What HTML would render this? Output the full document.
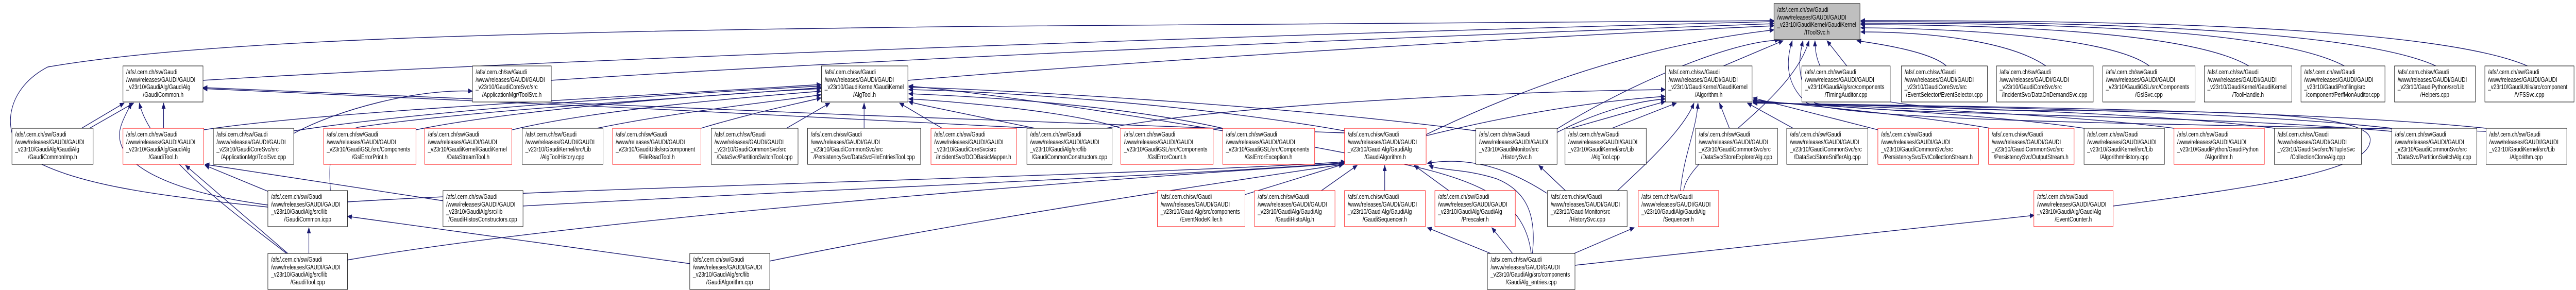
<!DOCTYPE html>
<html><head><meta charset="utf-8">
<style>
html,body{margin:0;padding:0;background:#fff;width:100%;height:100%;overflow:hidden;}
svg{display:block;width:100vw;height:100vh;}
text{font-family:"Liberation Sans",Arial,sans-serif;font-size:13px;fill:#000;}
.b{fill:#fff;stroke:#000;stroke-width:1;}
.r{fill:#fff;stroke:#ff0000;stroke-width:1;}
.g{fill:#bfbfbf;stroke:#000;stroke-width:1;}
.e{fill:none;stroke:#191970;stroke-width:1.4;marker-end:url(#a);}
</style></head><body>
<svg viewBox="0 0 6472 563" preserveAspectRatio="none" xmlns="http://www.w3.org/2000/svg">
<defs><marker id="a" markerWidth="12" markerHeight="10" refX="11" refY="5" orient="auto" markerUnits="userSpaceOnUse"><path d="M0,0 L12,5 L0,10 z" fill="#191970"/></marker></defs>

<g>
<!-- into IToolSvc -->
<path class="e" d="M508,156 C1500,110 3500,60 4457,42"/>
<path class="e" d="M1383,156 C2300,110 3600,70 4457,46"/>
<path class="e" d="M2280,156 C3000,110 3900,70 4457,50"/>
<path class="e" d="M673,402 C400,380 180,360 60,300 C0,250 20,170 120,130 C500,80 1200,62 2477,51 C3300,46 4000,42 4457,40"/>
<path class="e" d="M3581,262 C3800,180 4100,90 4457,58"/>
<path class="e" d="M3908,252 C4100,160 4350,80 4470,78"/>
<path class="e" d="M4330,128 L4480,79"/>
<path class="e" d="M4640,128 L4590,79"/>
<path class="e" d="M4890,128 C4850,100 4720,85 4665,79"/>
<path class="e" d="M5140,128 C5050,80 4850,62 4675,62"/>
<path class="e" d="M5400,128 C5300,70 4900,55 4675,54"/>
<path class="e" d="M5650,128 C5500,60 5000,48 4675,48"/>
<path class="e" d="M5890,128 C5700,50 5050,45 4675,45"/>
<path class="e" d="M6120,128 C5900,50 5100,42 4675,42"/>
<path class="e" d="M6350,128 C6100,45 5200,40 4675,40"/>
<path class="e" d="M6246,255 C5600,240 4700,240 4540,200 C4480,160 4490,110 4503,79"/>
<path class="e" d="M6009,255 C5500,220 4700,225 4560,200 C4510,160 4520,110 4530,79"/>
<path class="e" d="M5309,400 C5700,360 5960,330 5955,270 C5950,220 5600,215 5200,215 C4700,215 4560,190 4560,79"/>
<path class="e" d="M4230,370 C4240,300 4500,200 4545,79"/>
<!-- into GaudiCommon.h -->
<path class="e" d="M205,249 L312,200"/>
<path class="e" d="M225,249 L336,200"/>
<path class="e" d="M411,249 L411,200"/>
<path class="e" d="M673,398 C420,372 300,320 300,262 C300,242 320,217 330,200"/>
<path class="e" d="M720,492 C600,420 380,300 350,200"/>
<path class="e" d="M3378,258 C2500,232 1200,200 510,170"/>
<path class="e" d="M2600,249 C2000,222 1000,190 510,172"/>
<!-- into GaudiTool.h -->
<path class="e" d="M723,492 L466,321"/>
<path class="e" d="M675,372 L515,321"/>
<path class="e" d="M1115,390 L515,319"/>
<!-- into GaudiCommon.icpp -->
<path class="e" d="M776,492 L776,442"/>
<path class="e" d="M1735,512 L873,420"/>
<path class="e" d="M871,505 C1500,420 2900,340 3376,318"/>
<path class="e" d="M871,392 C1500,362 2900,340 3380,314"/>
<path class="e" d="M830,370 C825,300 830,262 900,247 C1200,212 1800,187 2063,170"/>
<path class="e" d="M1313,400 C2000,370 3000,340 3380,316"/>
<!-- into ToolSvc.h -->
<path class="e" d="M738,259 C850,212 1050,172 1187,177"/>
<!-- into AlgTool.h -->
<path class="e" d="M738,254 C1100,212 1700,182 2063,167"/>
<path class="e" d="M512,252 C800,217 1600,187 2063,164"/>
<path class="e" d="M1045,252 C1300,212 1800,182 2063,172"/>
<path class="e" d="M1287,252 C1500,212 1900,187 2063,177"/>
<path class="e" d="M1500,249 C1700,217 1950,197 2063,184"/>
<path class="e" d="M1761,249 C1900,217 2000,202 2063,190"/>
<path class="e" d="M1976,249 L2085,200"/>
<path class="e" d="M2171,249 L2171,200"/>
<path class="e" d="M2367,249 L2260,200"/>
<path class="e" d="M2816,249 C2700,217 2400,197 2283,192"/>
<path class="e" d="M3072,249 C2800,202 2450,187 2283,182"/>
<path class="e" d="M3378,254 C3000,202 2500,177 2283,174"/>
<path class="e" d="M3709,254 C3200,202 2500,174 2283,169"/>
<path class="e" d="M3847,492 C3830,380 3700,340 3400,300 C3000,240 2500,182 2283,167"/>
<path class="e" d="M2600,249 C2400,217 2300,202 2283,197"/>
<!-- into Algorithm.h -->
<path class="e" d="M2779,249 C3100,202 3800,177 4184,174"/>
<path class="e" d="M3581,264 C3800,222 4000,197 4184,187"/>
<path class="e" d="M3912,257 C4000,222 4100,197 4184,192"/>
<path class="e" d="M3933,252 L4184,197"/>
<path class="e" d="M4050,249 L4212,200"/>
<path class="e" d="M4064,370 C4130,322 4230,252 4256,200"/>
<path class="e" d="M4222,370 C4230,302 4262,252 4266,200"/>
<path class="e" d="M4345,249 L4320,200"/>
<path class="e" d="M4505,249 L4390,200"/>
<path class="e" d="M4718,252 L4404,190"/>
<path class="e" d="M5000,249 C4800,222 4500,202 4404,194"/>
<path class="e" d="M5236,249 C5000,222 4600,207 4404,196"/>
<path class="e" d="M5462,249 C5200,222 4700,207 4404,198"/>
<path class="e" d="M5714,249 C5400,217 4800,207 4404,199"/>
<path class="e" d="M6009,249 C5600,214 4900,207 4404,200"/>
<path class="e" d="M6246,249 C5800,214 5000,207 4404,200"/>
<!-- into GaudiAlgorithm.h -->
<path class="e" d="M3127,378 L3375,319"/>
<path class="e" d="M3320,370 L3410,321"/>
<path class="e" d="M3479,370 L3479,321"/>
<path class="e" d="M3640,370 L3553,321"/>
<path class="e" d="M1933,507 C2400,432 3000,362 3376,319"/>
<path class="e" d="M3886,375 C3800,332 3700,302 3586,317"/>
<!-- into HistorySvc.h -->
<path class="e" d="M3933,370 L3866,321"/>
<!-- GaudiAlg_entries -->
<path class="e" d="M3745,492 L3586,442"/>
<path class="e" d="M3800,492 L3748,442"/>
<path class="e" d="M3955,492 L4106,442"/>
<path class="e" d="M3957,515 L5111,418"/>
<path class="e" d="M3850,492 C3860,422 3840,372 3760,347 C3680,327 3620,332 3590,321"/>
</g>

<!-- nodes -->
<g transform="translate(4457,7)"><rect class="g" width="216" height="70"/><text x="8" y="16">/afs/.cern.ch/sw/Gaudi</text><text x="8" y="31">/www/releases/GAUDI/GAUDI</text><text x="8" y="45">_v23r10/GaudiKernel/GaudiKernel</text><text x="108" y="60" text-anchor="middle">/IToolSvc.h</text></g>

<g transform="translate(309,128)"><rect class="b" width="201" height="70"/><text x="8" y="16">/afs/.cern.ch/sw/Gaudi</text><text x="8" y="31">/www/releases/GAUDI/GAUDI</text><text x="8" y="45">_v23r10/GaudiAlg/GaudiAlg</text><text x="101" y="60" text-anchor="middle">/GaudiCommon.h</text></g>
<g transform="translate(1187,128)"><rect class="b" width="198" height="70"/><text x="8" y="16">/afs/.cern.ch/sw/Gaudi</text><text x="8" y="31">/www/releases/GAUDI/GAUDI</text><text x="8" y="45">_v23r10/GaudiCoreSvc/src</text><text x="99" y="60" text-anchor="middle">/ApplicationMgr/ToolSvc.h</text></g>
<g transform="translate(2064,128)"><rect class="b" width="217" height="70"/><text x="8" y="16">/afs/.cern.ch/sw/Gaudi</text><text x="8" y="31">/www/releases/GAUDI/GAUDI</text><text x="8" y="45">_v23r10/GaudiKernel/GaudiKernel</text><text x="108" y="60" text-anchor="middle">/AlgTool.h</text></g>
<g transform="translate(4184,128)"><rect class="b" width="218" height="70"/><text x="8" y="16">/afs/.cern.ch/sw/Gaudi</text><text x="8" y="31">/www/releases/GAUDI/GAUDI</text><text x="8" y="45">_v23r10/GaudiKernel/GaudiKernel</text><text x="109" y="60" text-anchor="middle">/Algorithm.h</text></g>
<g transform="translate(4527,128)"><rect class="b" width="222" height="70"/><text x="8" y="16">/afs/.cern.ch/sw/Gaudi</text><text x="8" y="31">/www/releases/GAUDI/GAUDI</text><text x="8" y="45">_v23r10/GaudiAlg/src/components</text><text x="111" y="60" text-anchor="middle">/TimingAuditor.cpp</text></g>
<g transform="translate(4777,128)"><rect class="b" width="216" height="70"/><text x="8" y="16">/afs/.cern.ch/sw/Gaudi</text><text x="8" y="31">/www/releases/GAUDI/GAUDI</text><text x="8" y="45">_v23r10/GaudiCoreSvc/src</text><text x="108" y="60" text-anchor="middle">/EventSelector/EventSelector.cpp</text></g>
<g transform="translate(5016,128)"><rect class="b" width="243" height="70"/><text x="8" y="16">/afs/.cern.ch/sw/Gaudi</text><text x="8" y="31">/www/releases/GAUDI/GAUDI</text><text x="8" y="45">_v23r10/GaudiCoreSvc/src</text><text x="121" y="60" text-anchor="middle">/IncidentSvc/DataOnDemandSvc.cpp</text></g>
<g transform="translate(5283,128)"><rect class="b" width="232" height="70"/><text x="8" y="16">/afs/.cern.ch/sw/Gaudi</text><text x="8" y="31">/www/releases/GAUDI/GAUDI</text><text x="8" y="45">_v23r10/GaudiGSL/src/Components</text><text x="116" y="60" text-anchor="middle">/GslSvc.cpp</text></g>
<g transform="translate(5538,128)"><rect class="b" width="220" height="70"/><text x="8" y="16">/afs/.cern.ch/sw/Gaudi</text><text x="8" y="31">/www/releases/GAUDI/GAUDI</text><text x="8" y="45">_v23r10/GaudiKernel/GaudiKernel</text><text x="110" y="60" text-anchor="middle">/ToolHandle.h</text></g>
<g transform="translate(5781,128)"><rect class="b" width="211" height="70"/><text x="8" y="16">/afs/.cern.ch/sw/Gaudi</text><text x="8" y="31">/www/releases/GAUDI/GAUDI</text><text x="8" y="45">_v23r10/GaudiProfiling/src</text><text x="105" y="60" text-anchor="middle">/component/PerfMonAuditor.cpp</text></g>
<g transform="translate(6016,128)"><rect class="b" width="203" height="70"/><text x="8" y="16">/afs/.cern.ch/sw/Gaudi</text><text x="8" y="31">/www/releases/GAUDI/GAUDI</text><text x="8" y="45">_v23r10/GaudiPython/src/Lib</text><text x="101" y="60" text-anchor="middle">/Helpers.cpp</text></g>
<g transform="translate(6243,128)"><rect class="b" width="224" height="70"/><text x="8" y="16">/afs/.cern.ch/sw/Gaudi</text><text x="8" y="31">/www/releases/GAUDI/GAUDI</text><text x="8" y="45">_v23r10/GaudiUtils/src/component</text><text x="112" y="60" text-anchor="middle">/VFSSvc.cpp</text></g>

<g transform="translate(30,249)"><rect class="b" width="204" height="70"/><text x="8" y="16">/afs/.cern.ch/sw/Gaudi</text><text x="8" y="31">/www/releases/GAUDI/GAUDI</text><text x="8" y="45">_v23r10/GaudiAlg/GaudiAlg</text><text x="102" y="60" text-anchor="middle">/GaudiCommonImp.h</text></g>
<g transform="translate(309,249)"><rect class="r" width="203" height="70"/><text x="8" y="16">/afs/.cern.ch/sw/Gaudi</text><text x="8" y="31">/www/releases/GAUDI/GAUDI</text><text x="8" y="45">_v23r10/GaudiAlg/GaudiAlg</text><text x="101" y="60" text-anchor="middle">/GaudiTool.h</text></g>
<g transform="translate(536,249)"><rect class="b" width="202" height="70"/><text x="8" y="16">/afs/.cern.ch/sw/Gaudi</text><text x="8" y="31">/www/releases/GAUDI/GAUDI</text><text x="8" y="45">_v23r10/GaudiCoreSvc/src</text><text x="101" y="60" text-anchor="middle">/ApplicationMgr/ToolSvc.cpp</text></g>
<g transform="translate(813,249)"><rect class="r" width="232" height="70"/><text x="8" y="16">/afs/.cern.ch/sw/Gaudi</text><text x="8" y="31">/www/releases/GAUDI/GAUDI</text><text x="8" y="45">_v23r10/GaudiGSL/src/Components</text><text x="116" y="60" text-anchor="middle">/GslErrorPrint.h</text></g>
<g transform="translate(1067,249)"><rect class="r" width="219" height="70"/><text x="8" y="16">/afs/.cern.ch/sw/Gaudi</text><text x="8" y="31">/www/releases/GAUDI/GAUDI</text><text x="8" y="45">_v23r10/GaudiKernel/GaudiKernel</text><text x="109" y="60" text-anchor="middle">/DataStreamTool.h</text></g>
<g transform="translate(1312,249)"><rect class="b" width="203" height="70"/><text x="8" y="16">/afs/.cern.ch/sw/Gaudi</text><text x="8" y="31">/www/releases/GAUDI/GAUDI</text><text x="8" y="45">_v23r10/GaudiKernel/src/Lib</text><text x="101" y="60" text-anchor="middle">/AlgToolHistory.cpp</text></g>
<g transform="translate(1539,249)"><rect class="r" width="222" height="70"/><text x="8" y="16">/afs/.cern.ch/sw/Gaudi</text><text x="8" y="31">/www/releases/GAUDI/GAUDI</text><text x="8" y="45">_v23r10/GaudiUtils/src/component</text><text x="111" y="60" text-anchor="middle">/FileReadTool.h</text></g>
<g transform="translate(1787,249)"><rect class="b" width="218" height="70"/><text x="8" y="16">/afs/.cern.ch/sw/Gaudi</text><text x="8" y="31">/www/releases/GAUDI/GAUDI</text><text x="8" y="45">_v23r10/GaudiCommonSvc/src</text><text x="109" y="60" text-anchor="middle">/DataSvc/PartitionSwitchTool.cpp</text></g>
<g transform="translate(2029,249)"><rect class="b" width="284" height="70"/><text x="8" y="16">/afs/.cern.ch/sw/Gaudi</text><text x="8" y="31">/www/releases/GAUDI/GAUDI</text><text x="8" y="45">_v23r10/GaudiCommonSvc/src</text><text x="142" y="60" text-anchor="middle">/PersistencySvc/DataSvcFileEntriesTool.cpp</text></g>
<g transform="translate(2339,249)"><rect class="r" width="215" height="70"/><text x="8" y="16">/afs/.cern.ch/sw/Gaudi</text><text x="8" y="31">/www/releases/GAUDI/GAUDI</text><text x="8" y="45">_v23r10/GaudiCoreSvc/src</text><text x="107" y="60" text-anchor="middle">/IncidentSvc/DODBasicMapper.h</text></g>
<g transform="translate(2580,249)"><rect class="b" width="214" height="70"/><text x="8" y="16">/afs/.cern.ch/sw/Gaudi</text><text x="8" y="31">/www/releases/GAUDI/GAUDI</text><text x="8" y="45">_v23r10/GaudiAlg/src/lib</text><text x="107" y="60" text-anchor="middle">/GaudiCommonConstructors.cpp</text></g>
<g transform="translate(2816,249)"><rect class="r" width="232" height="70"/><text x="8" y="16">/afs/.cern.ch/sw/Gaudi</text><text x="8" y="31">/www/releases/GAUDI/GAUDI</text><text x="8" y="45">_v23r10/GaudiGSL/src/Components</text><text x="116" y="60" text-anchor="middle">/GslErrorCount.h</text></g>
<g transform="translate(3072,249)"><rect class="r" width="231" height="70"/><text x="8" y="16">/afs/.cern.ch/sw/Gaudi</text><text x="8" y="31">/www/releases/GAUDI/GAUDI</text><text x="8" y="45">_v23r10/GaudiGSL/src/Components</text><text x="115" y="60" text-anchor="middle">/GslErrorException.h</text></g>
<g transform="translate(3378,249)"><rect class="r" width="205" height="70"/><text x="8" y="16">/afs/.cern.ch/sw/Gaudi</text><text x="8" y="31">/www/releases/GAUDI/GAUDI</text><text x="8" y="45">_v23r10/GaudiAlg/GaudiAlg</text><text x="102" y="60" text-anchor="middle">/GaudiAlgorithm.h</text></g>
<g transform="translate(3708,249)"><rect class="b" width="204" height="70"/><text x="8" y="16">/afs/.cern.ch/sw/Gaudi</text><text x="8" y="31">/www/releases/GAUDI/GAUDI</text><text x="8" y="45">_v23r10/GaudiMonitor/src</text><text x="102" y="60" text-anchor="middle">/HistorySvc.h</text></g>
<g transform="translate(3932,249)"><rect class="b" width="204" height="70"/><text x="8" y="16">/afs/.cern.ch/sw/Gaudi</text><text x="8" y="31">/www/releases/GAUDI/GAUDI</text><text x="8" y="45">_v23r10/GaudiKernel/src/Lib</text><text x="102" y="60" text-anchor="middle">/AlgTool.cpp</text></g>
<g transform="translate(4260,249)"><rect class="b" width="206" height="70"/><text x="8" y="16">/afs/.cern.ch/sw/Gaudi</text><text x="8" y="31">/www/releases/GAUDI/GAUDI</text><text x="8" y="45">_v23r10/GaudiCommonSvc/src</text><text x="103" y="60" text-anchor="middle">/DataSvc/StoreExplorerAlg.cpp</text></g>
<g transform="translate(4489,249)"><rect class="b" width="204" height="70"/><text x="8" y="16">/afs/.cern.ch/sw/Gaudi</text><text x="8" y="31">/www/releases/GAUDI/GAUDI</text><text x="8" y="45">_v23r10/GaudiCommonSvc/src</text><text x="102" y="60" text-anchor="middle">/DataSvc/StoreSnifferAlg.cpp</text></g>
<g transform="translate(4718,249)"><rect class="r" width="253" height="70"/><text x="8" y="16">/afs/.cern.ch/sw/Gaudi</text><text x="8" y="31">/www/releases/GAUDI/GAUDI</text><text x="8" y="45">_v23r10/GaudiCommonSvc/src</text><text x="126" y="60" text-anchor="middle">/PersistencySvc/EvtCollectionStream.h</text></g>
<g transform="translate(4996,249)"><rect class="r" width="215" height="70"/><text x="8" y="16">/afs/.cern.ch/sw/Gaudi</text><text x="8" y="31">/www/releases/GAUDI/GAUDI</text><text x="8" y="45">_v23r10/GaudiCommonSvc/src</text><text x="107" y="60" text-anchor="middle">/PersistencySvc/OutputStream.h</text></g>
<g transform="translate(5236,249)"><rect class="b" width="202" height="70"/><text x="8" y="16">/afs/.cern.ch/sw/Gaudi</text><text x="8" y="31">/www/releases/GAUDI/GAUDI</text><text x="8" y="45">_v23r10/GaudiKernel/src/Lib</text><text x="101" y="60" text-anchor="middle">/AlgorithmHistory.cpp</text></g>
<g transform="translate(5462,249)"><rect class="r" width="227" height="70"/><text x="8" y="16">/afs/.cern.ch/sw/Gaudi</text><text x="8" y="31">/www/releases/GAUDI/GAUDI</text><text x="8" y="45">_v23r10/GaudiPython/GaudiPython</text><text x="113" y="60" text-anchor="middle">/Algorithm.h</text></g>
<g transform="translate(5714,249)"><rect class="b" width="219" height="70"/><text x="8" y="16">/afs/.cern.ch/sw/Gaudi</text><text x="8" y="31">/www/releases/GAUDI/GAUDI</text><text x="8" y="45">_v23r10/GaudiSvc/src/NTupleSvc</text><text x="109" y="60" text-anchor="middle">/CollectionCloneAlg.cpp</text></g>
<g transform="translate(6009,249)"><rect class="b" width="214" height="70"/><text x="8" y="16">/afs/.cern.ch/sw/Gaudi</text><text x="8" y="31">/www/releases/GAUDI/GAUDI</text><text x="8" y="45">_v23r10/GaudiCommonSvc/src</text><text x="107" y="60" text-anchor="middle">/DataSvc/PartitionSwitchAlg.cpp</text></g>
<g transform="translate(6246,249)"><rect class="b" width="203" height="70"/><text x="8" y="16">/afs/.cern.ch/sw/Gaudi</text><text x="8" y="31">/www/releases/GAUDI/GAUDI</text><text x="8" y="45">_v23r10/GaudiKernel/src/Lib</text><text x="101" y="60" text-anchor="middle">/Algorithm.cpp</text></g>

<g transform="translate(673,370)"><rect class="b" width="200" height="70"/><text x="8" y="16">/afs/.cern.ch/sw/Gaudi</text><text x="8" y="31">/www/releases/GAUDI/GAUDI</text><text x="8" y="45">_v23r10/GaudiAlg/src/lib</text><text x="100" y="60" text-anchor="middle">/GaudiCommon.icpp</text></g>
<g transform="translate(1113,370)"><rect class="b" width="201" height="70"/><text x="8" y="16">/afs/.cern.ch/sw/Gaudi</text><text x="8" y="31">/www/releases/GAUDI/GAUDI</text><text x="8" y="45">_v23r10/GaudiAlg/src/lib</text><text x="100" y="60" text-anchor="middle">/GaudiHistosConstructors.cpp</text></g>
<g transform="translate(2908,370)"><rect class="r" width="220" height="70"/><text x="8" y="16">/afs/.cern.ch/sw/Gaudi</text><text x="8" y="31">/www/releases/GAUDI/GAUDI</text><text x="8" y="45">_v23r10/GaudiAlg/src/components</text><text x="110" y="60" text-anchor="middle">/EventNodeKiller.h</text></g>
<g transform="translate(3152,370)"><rect class="r" width="202" height="70"/><text x="8" y="16">/afs/.cern.ch/sw/Gaudi</text><text x="8" y="31">/www/releases/GAUDI/GAUDI</text><text x="8" y="45">_v23r10/GaudiAlg/GaudiAlg</text><text x="101" y="60" text-anchor="middle">/GaudiHistoAlg.h</text></g>
<g transform="translate(3378,370)"><rect class="r" width="203" height="70"/><text x="8" y="16">/afs/.cern.ch/sw/Gaudi</text><text x="8" y="31">/www/releases/GAUDI/GAUDI</text><text x="8" y="45">_v23r10/GaudiAlg/GaudiAlg</text><text x="101" y="60" text-anchor="middle">/GaudiSequencer.h</text></g>
<g transform="translate(3605,370)"><rect class="r" width="202" height="70"/><text x="8" y="16">/afs/.cern.ch/sw/Gaudi</text><text x="8" y="31">/www/releases/GAUDI/GAUDI</text><text x="8" y="45">_v23r10/GaudiAlg/GaudiAlg</text><text x="101" y="60" text-anchor="middle">/Prescaler.h</text></g>
<g transform="translate(3888,370)"><rect class="b" width="200" height="70"/><text x="8" y="16">/afs/.cern.ch/sw/Gaudi</text><text x="8" y="31">/www/releases/GAUDI/GAUDI</text><text x="8" y="45">_v23r10/GaudiMonitor/src</text><text x="100" y="60" text-anchor="middle">/HistorySvc.cpp</text></g>
<g transform="translate(4116,370)"><rect class="r" width="202" height="70"/><text x="8" y="16">/afs/.cern.ch/sw/Gaudi</text><text x="8" y="31">/www/releases/GAUDI/GAUDI</text><text x="8" y="45">_v23r10/GaudiAlg/GaudiAlg</text><text x="101" y="60" text-anchor="middle">/Sequencer.h</text></g>
<g transform="translate(5110,370)"><rect class="r" width="199" height="70"/><text x="8" y="16">/afs/.cern.ch/sw/Gaudi</text><text x="8" y="31">/www/releases/GAUDI/GAUDI</text><text x="8" y="45">_v23r10/GaudiAlg/GaudiAlg</text><text x="99" y="60" text-anchor="middle">/EventCounter.h</text></g>

<g transform="translate(673,492)"><rect class="b" width="200" height="70"/><text x="8" y="16">/afs/.cern.ch/sw/Gaudi</text><text x="8" y="31">/www/releases/GAUDI/GAUDI</text><text x="8" y="45">_v23r10/GaudiAlg/src/lib</text><text x="100" y="60" text-anchor="middle">/GaudiTool.cpp</text></g>
<g transform="translate(1733,492)"><rect class="b" width="201" height="70"/><text x="8" y="16">/afs/.cern.ch/sw/Gaudi</text><text x="8" y="31">/www/releases/GAUDI/GAUDI</text><text x="8" y="45">_v23r10/GaudiAlg/src/lib</text><text x="100" y="60" text-anchor="middle">/GaudiAlgorithm.cpp</text></g>
<g transform="translate(3737,492)"><rect class="b" width="220" height="70"/><text x="8" y="16">/afs/.cern.ch/sw/Gaudi</text><text x="8" y="31">/www/releases/GAUDI/GAUDI</text><text x="8" y="45">_v23r10/GaudiAlg/src/components</text><text x="110" y="60" text-anchor="middle">/GaudiAlg_entries.cpp</text></g>
</svg>
</body></html>
